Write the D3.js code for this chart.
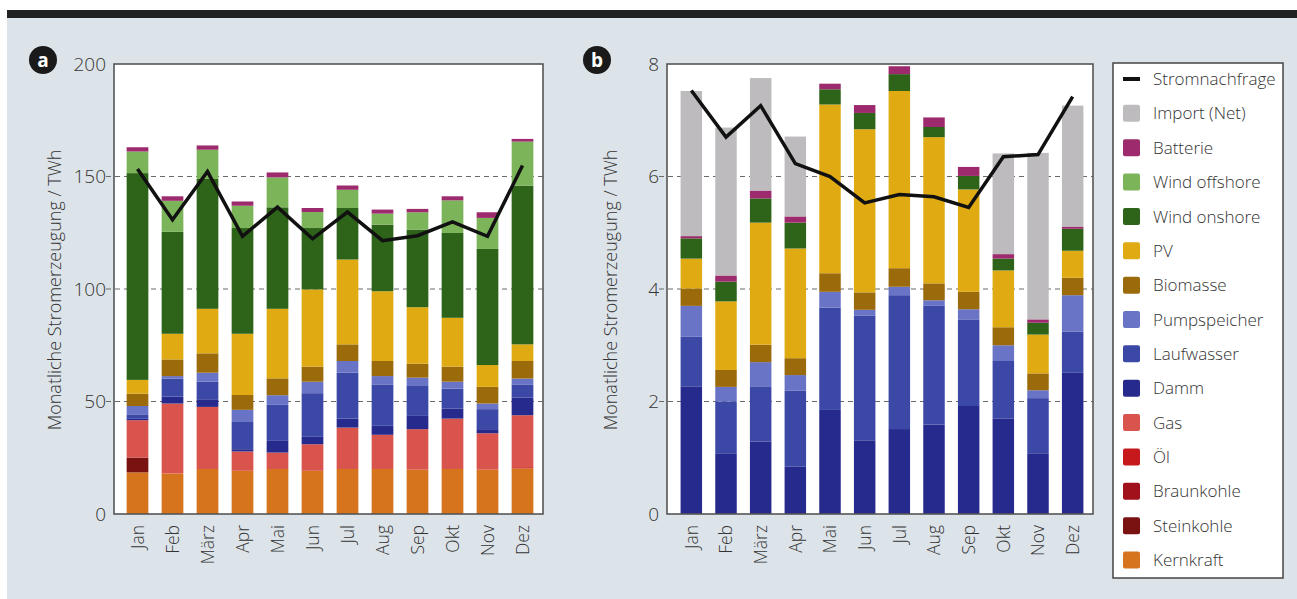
<!DOCTYPE html>
<html>
<head>
<meta charset="utf-8">
<script src="https://cdn.jsdelivr.net/npm/d3@7"></script>
<style>
  body { margin: 0; background: #fff; }
  svg { display: block; }
  text { font-family: "Open Sans", "Noto Sans", sans-serif; fill: #333; }
</style>
</head>
<body>
<div id="chart"></div>
<script>
var months = ["Jan", "Feb", "März", "Apr", "Mai", "Jun", "Jul", "Aug", "Sep", "Okt", "Nov", "Dez"];

// stack order, bottom to top
var seriesNames = ["Kernkraft", "Steinkohle", "Braunkohle", "Öl", "Gas", "Damm", "Laufwasser",
    "Pumpspeicher", "Biomasse", "PV", "Wind onshore", "Wind offshore", "Batterie", "Import (Net)"];
var seriesColors = ["#d6731d", "#7a1212", "#a0111b", "#c5191c", "#d9544c", "#252a8c", "#3b48a6",
    "#6a74c6", "#9a6a0b", "#e0ab12", "#2e6419", "#7cb45a", "#9c2a6c", "#bdbbbe"];

// panel a, TWh
var kernkraftA    = [18.5, 18.0, 20.0, 19.2, 20.0, 19.2, 20.0, 20.0, 19.7, 20.0, 19.7, 20.3];
var steinkohleA   = [6.6, 0, 0, 0, 0, 0, 0, 0, 0, 0, 0, 0];
var braunkohleA   = [0, 0, 0, 0, 0, 0, 0, 0, 0, 0, 0, 0];
var oelA          = [0, 0, 0, 0, 0, 0, 0, 0, 0, 0, 0, 0.5];
var gasA          = [16.6, 31.1, 27.6, 8.6, 7.3, 11.8, 18.4, 15.2, 18.0, 22.4, 16.2, 23.1];
var dammA         = [0.6, 3.1, 3.4, 1.0, 5.2, 3.3, 4.0, 4.0, 5.9, 4.5, 1.8, 7.8];
var laufwasserA   = [2.0, 8.0, 7.8, 12.1, 16.0, 19.4, 20.4, 18.4, 13.3, 8.8, 8.9, 5.9];
var pumpspeicherA = [3.7, 1.1, 4.0, 5.4, 4.3, 5.1, 5.2, 3.7, 3.7, 3.1, 2.5, 2.6];
var biomasseA     = [5.5, 7.4, 8.6, 6.6, 7.5, 6.7, 7.4, 6.7, 6.2, 6.7, 7.4, 7.8];
var pvA           = [6.1, 11.4, 19.8, 27.2, 30.9, 34.3, 37.7, 31.0, 25.1, 21.7, 9.7, 7.4];
var onshoreA      = [91.9, 45.3, 57.7, 47.0, 45.1, 27.3, 22.9, 29.6, 34.5, 37.7, 51.6, 70.5];
var offshoreA     = [9.6, 13.8, 13.0, 9.9, 13.3, 7.1, 8.1, 4.9, 7.7, 14.5, 13.8, 19.6];
var batterieA     = [1.9, 2.0, 1.9, 1.9, 2.2, 1.8, 1.9, 1.8, 1.5, 1.8, 2.5, 1.2];
var importA       = [0, 0, 0, 0, 0, 0, 0, 0, 0, 0, 0, 0];
var demandA       = [153.3, 130.8, 152.2, 123.4, 136.4, 122.3, 134.2, 121.5, 123.7, 129.8, 123.4, 154.9];

// panel b, TWh
var zero12 = [0, 0, 0, 0, 0, 0, 0, 0, 0, 0, 0, 0];
var dammB         = [2.27, 1.08, 1.29, 0.84, 1.85, 1.31, 1.51, 1.59, 1.92, 1.70, 1.08, 2.51];
var laufwasserB   = [0.88, 0.92, 0.98, 1.35, 1.82, 2.22, 2.38, 2.11, 1.54, 1.02, 0.98, 0.73];
var pumpspeicherB = [0.55, 0.26, 0.43, 0.28, 0.28, 0.10, 0.15, 0.10, 0.18, 0.28, 0.14, 0.65];
var biomasseB     = [0.31, 0.30, 0.31, 0.30, 0.33, 0.31, 0.33, 0.30, 0.31, 0.32, 0.30, 0.31];
var pvB           = [0.53, 1.22, 2.17, 1.95, 3.00, 2.90, 3.15, 2.60, 1.82, 1.01, 0.69, 0.48];
var onshoreB      = [0.36, 0.35, 0.43, 0.46, 0.27, 0.29, 0.30, 0.18, 0.24, 0.21, 0.21, 0.39];
var batterieB     = [0.04, 0.11, 0.14, 0.11, 0.10, 0.14, 0.14, 0.17, 0.16, 0.08, 0.06, 0.04];
var importB       = [2.58, 2.63, 2.00, 1.42, 0, 0, 0, 0, 0, 1.79, 2.96, 2.15];
var demandB       = [7.53, 6.70, 7.26, 6.23, 6.00, 5.53, 5.68, 5.64, 5.45, 6.35, 6.39, 7.42];

var seriesA = [kernkraftA, steinkohleA, braunkohleA, oelA, gasA, dammA, laufwasserA,
    pumpspeicherA, biomasseA, pvA, onshoreA, offshoreA, batterieA, importA];
var seriesB = [zero12, zero12, zero12, zero12, zero12, dammB, laufwasserB,
    pumpspeicherB, biomasseB, pvB, onshoreB, zero12, batterieB, importB];

var width = 1297, height = 599;

var svg = d3.select("#chart").append("svg")
    .attr("width", width)
    .attr("height", height);

// paper + top rule
svg.append("rect").attr("x", 7).attr("y", 17).attr("width", width - 7).attr("height", height - 17)
    .attr("fill", "#dde4e9");
svg.append("rect").attr("x", 7).attr("y", 10).attr("width", width - 7).attr("height", 8)
    .attr("fill", "#222");

function toRows(series) {
    return months.map(function(m, i) {
        var row = { month: m };
        seriesNames.forEach(function(n, k) { row[n] = series[k][i]; });
        return row;
    });
}

function drawPanel(opt) {
    var x = d3.scaleBand().domain(months).range(opt.xRange)
        .paddingInner(0.38).paddingOuter(0.19);
    var y = d3.scaleLinear().domain([0, opt.max]).range([514, 64]);
    var g = svg.append("g");

    g.append("rect")
        .attr("x", opt.frame[0]).attr("y", 64)
        .attr("width", opt.frame[1] - opt.frame[0]).attr("height", 450)
        .attr("fill", "#fff");

    // dashed gridlines
    g.selectAll(".grid").data(opt.ticks.slice(1, -1)).enter().append("line")
        .attr("x1", opt.frame[0] - 8).attr("x2", opt.frame[1])
        .attr("y1", function(d) { return y(d); }).attr("y2", function(d) { return y(d); })
        .style("stroke", "#6a6a6a").style("stroke-width", 1.1)
        .style("stroke-dasharray", "5,4");

    var stack = d3.stack().keys(seriesNames)(toRows(opt.series));
    g.selectAll(".layer").data(stack).enter().append("g")
        .attr("fill", function(d, i) { return seriesColors[i]; })
        .selectAll("rect").data(function(d) { return d; }).enter().append("rect")
        .attr("x", function(d) { return x(d.data.month); })
        .attr("width", x.bandwidth())
        .attr("y", function(d) { return y(d[1]); })
        .attr("height", function(d) { return Math.max(0, y(d[0]) - y(d[1])); });

    var line = d3.line()
        .x(function(d, i) { return x(months[i]) + x.bandwidth() / 2; })
        .y(function(d) { return y(d); });
    g.append("path").datum(opt.demand)
        .attr("d", line)
        .attr("fill", "none")
        .style("stroke", "#111").style("stroke-width", 3.5)
        .style("stroke-linejoin", "miter");

    g.append("rect")
        .attr("x", opt.frame[0]).attr("y", 64)
        .attr("width", opt.frame[1] - opt.frame[0]).attr("height", 450)
        .attr("fill", "none").style("stroke", "#555").style("stroke-width", 1.6);

    // y tick labels
    g.selectAll(".ytick").data(opt.ticks).enter().append("text")
        .attr("x", opt.frame[0] - 8).attr("y", function(d) { return y(d); })
        .attr("dy", "0.36em").attr("text-anchor", "end")
        .style("font-size", "19px").style("font-weight", 300)
        .text(function(d) { return d; });

    // month labels
    g.selectAll(".xtick").data(months).enter().append("text")
        .attr("transform", function(d) {
            return "translate(" + (x(d) + x.bandwidth() / 2) + ",525) rotate(-90)";
        })
        .attr("dy", "0.36em").attr("text-anchor", "end")
        .style("font-size", "17.5px").style("font-weight", 300)
        .text(function(d) { return d; });

    g.append("text")
        .attr("transform", "translate(" + opt.labelX + ",290) rotate(-90)")
        .attr("text-anchor", "middle").attr("dy", "0.36em")
        .style("font-size", "18px").style("font-weight", 300)
        .text("Monatliche Stromerzeugung / TWh");

    g.append("circle").attr("cx", opt.badge[0]).attr("cy", 60).attr("r", 14).attr("fill", "#1a1a1a");
    g.append("text").attr("x", opt.badge[0]).attr("y", 60).attr("dy", "0.36em")
        .attr("text-anchor", "middle")
        .style("fill", "#fff").style("font-size", "19px").style("font-weight", 700)
        .text(opt.letter);
}

drawPanel({ series: seriesA, demand: demandA, max: 200, ticks: [0, 50, 100, 150, 200],
    xRange: [120, 540], frame: [114, 543], labelX: 55, badge: [43, 60], letter: "a" });
drawPanel({ series: seriesB, demand: demandB, max: 8, ticks: [0, 2, 4, 6, 8],
    xRange: [674, 1090], frame: [667, 1093], labelX: 611, badge: [597, 60], letter: "b" });

// legend
var legendItems = ["Stromnachfrage"].concat(seriesNames.slice().reverse());
var legendColors = ["#111"].concat(seriesColors.slice().reverse());
var ly = d3.scalePoint().domain(legendItems).range([79, 560]);

var legend = svg.append("g");
legend.append("rect").attr("x", 1113).attr("y", 63).attr("width", 170).attr("height", 515)
    .attr("fill", "#fff").style("stroke", "#444").style("stroke-width", 1.5);

var items = legend.selectAll(".item").data(legendItems).enter().append("g")
    .attr("transform", function(d) { return "translate(1123," + ly(d) + ")"; });
items.append("rect")
    .attr("x", 0)
    .attr("y", function(d, i) { return i === 0 ? -2 : -8.5; })
    .attr("width", 17)
    .attr("height", function(d, i) { return i === 0 ? 4 : 17; })
    .attr("rx", function(d, i) { return i === 0 ? 0 : 2; })
    .attr("fill", function(d, i) { return legendColors[i]; });
items.append("text")
    .attr("x", 30).attr("dy", "0.36em")
    .style("font-size", "17px").style("font-weight", 300)
    .text(function(d) { return d; });
</script>
</body>
</html>
